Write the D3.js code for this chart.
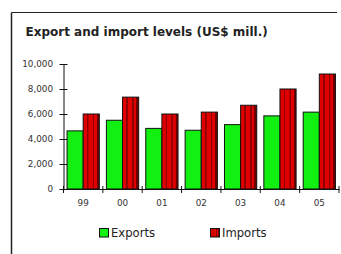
<!DOCTYPE html>
<html><head><meta charset="utf-8">
<script src="https://cdn.jsdelivr.net/npm/d3@7"></script>
<style>body{margin:0;background:#fff;}svg{display:block;}</style>
</head><body>
<svg id="c" width="341" height="254"></svg>
<script>
const years = ["99","00","01","02","03","04","05"];
const exportsVals = [4650, 5500, 4850, 4700, 5150, 5850, 6150];
const importsVals = [6000, 7350, 6000, 6150, 6700, 8000, 9200];
const yTicks = [0, 2000, 4000, 6000, 8000, 10000];
const seriesNames = ["Exports", "Imports"];
const title = "Export and import levels (US$ mill.)";

const FONT = "DejaVu Sans, Verdana, sans-serif";
const svg = d3.select("#c");
const defs = svg.append("defs");
const g = defs.append("linearGradient").attr("id","impGrad").attr("x1","0").attr("x2","1").attr("y1","0").attr("y2","0");
[[0,"#e00000"],[0.22,"#e00000"],[0.24,"#900000"],[0.32,"#900000"],[0.34,"#e00000"],[0.58,"#e00000"],[0.6,"#900000"],[0.68,"#900000"],[0.7,"#e00000"],[0.84,"#e00000"],[0.86,"#700000"],[1,"#700000"]]
  .forEach(s => g.append("stop").attr("offset", s[0]).attr("stop-color", s[1]));

// frame
svg.append("line").attr("x1",11.5).attr("x2",337).attr("y1",12.5).attr("y2",12.5).attr("stroke","#222").attr("stroke-width",1.2);
svg.append("line").attr("x1",11.5).attr("x2",11.5).attr("y1",12.5).attr("y2",254).attr("stroke","#222").attr("stroke-width",1.5);

svg.append("text").attr("x",25.5).attr("y",36).text(title)
  .attr("font-family",FONT).attr("font-weight","bold").attr("font-size",12).attr("fill","#222");

const x = d3.scaleBand().domain(years).range([63.5, 339]).paddingInner(0).paddingOuter(0);
const xs = d3.scaleBand().domain(seriesNames).range([0, x.bandwidth()]).paddingInner(0).paddingOuter(0.22);
const y = d3.scaleLinear().domain([0, 10000]).range([189, 64]);

const fills = {Exports: "#11f011", Imports: "url(#impGrad)"};
const data = years.map((yr, i) => ({yr, vals: [{k:"Exports", v: exportsVals[i]}, {k:"Imports", v: importsVals[i]}]}));

const groups = svg.append("g").selectAll("g").data(data).join("g").attr("transform", d => `translate(${x(d.yr)},0)`);
groups.selectAll("rect").data(d => d.vals).join("rect")
  .attr("x", d => xs(d.k)).attr("width", xs.bandwidth())
  .attr("y", d => y(d.v)).attr("height", d => y(0) - y(d.v))
  .attr("fill", d => fills[d.k]).attr("stroke", "#111").attr("stroke-width", 1);

// y axis
const ya = svg.append("g").attr("transform","translate(63.5,0)")
  .call(d3.axisLeft(y).tickValues(yTicks).tickFormat(d3.format(",")).tickSizeInner(4).tickSizeOuter(0).tickPadding(6.5));
ya.select(".domain").attr("stroke","#111");
ya.selectAll(".tick line").attr("x2",4).attr("x1",-4).attr("stroke","#111");
ya.selectAll("text").attr("font-family",FONT).attr("font-size",8.8).attr("fill","#333");

// x axis
const xa = svg.append("g").attr("transform","translate(0,189)")
  .call(d3.axisBottom(x).tickSize(0).tickPadding(11));
xa.select(".domain").attr("stroke","#111");
xa.selectAll("text").attr("font-family",FONT).attr("font-size",8.8).attr("fill","#333");
const bounds = years.map(v => x(v)).concat([x.range()[1]]);
xa.selectAll("line.bt").data(bounds).join("line").attr("class","bt")
  .attr("x1", d => d).attr("x2", d => d).attr("y1", -3).attr("y2", 4).attr("stroke","#111");

// legend
const leg = svg.append("g");
const legX = [99, 210];
seriesNames.forEach((n, i) => {
  leg.append("rect").attr("x", legX[i] + 0.5).attr("y", 228.5).attr("width", 9).attr("height", 8.5)
    .attr("fill", i === 0 ? "#11f011" : "url(#impGrad)").attr("stroke","#111");
  leg.append("text").attr("x", legX[i] + 12).attr("y", 237).text(n)
    .attr("font-family",FONT).attr("font-size",11.6).attr("fill","#222");
});
</script>
</body></html>
